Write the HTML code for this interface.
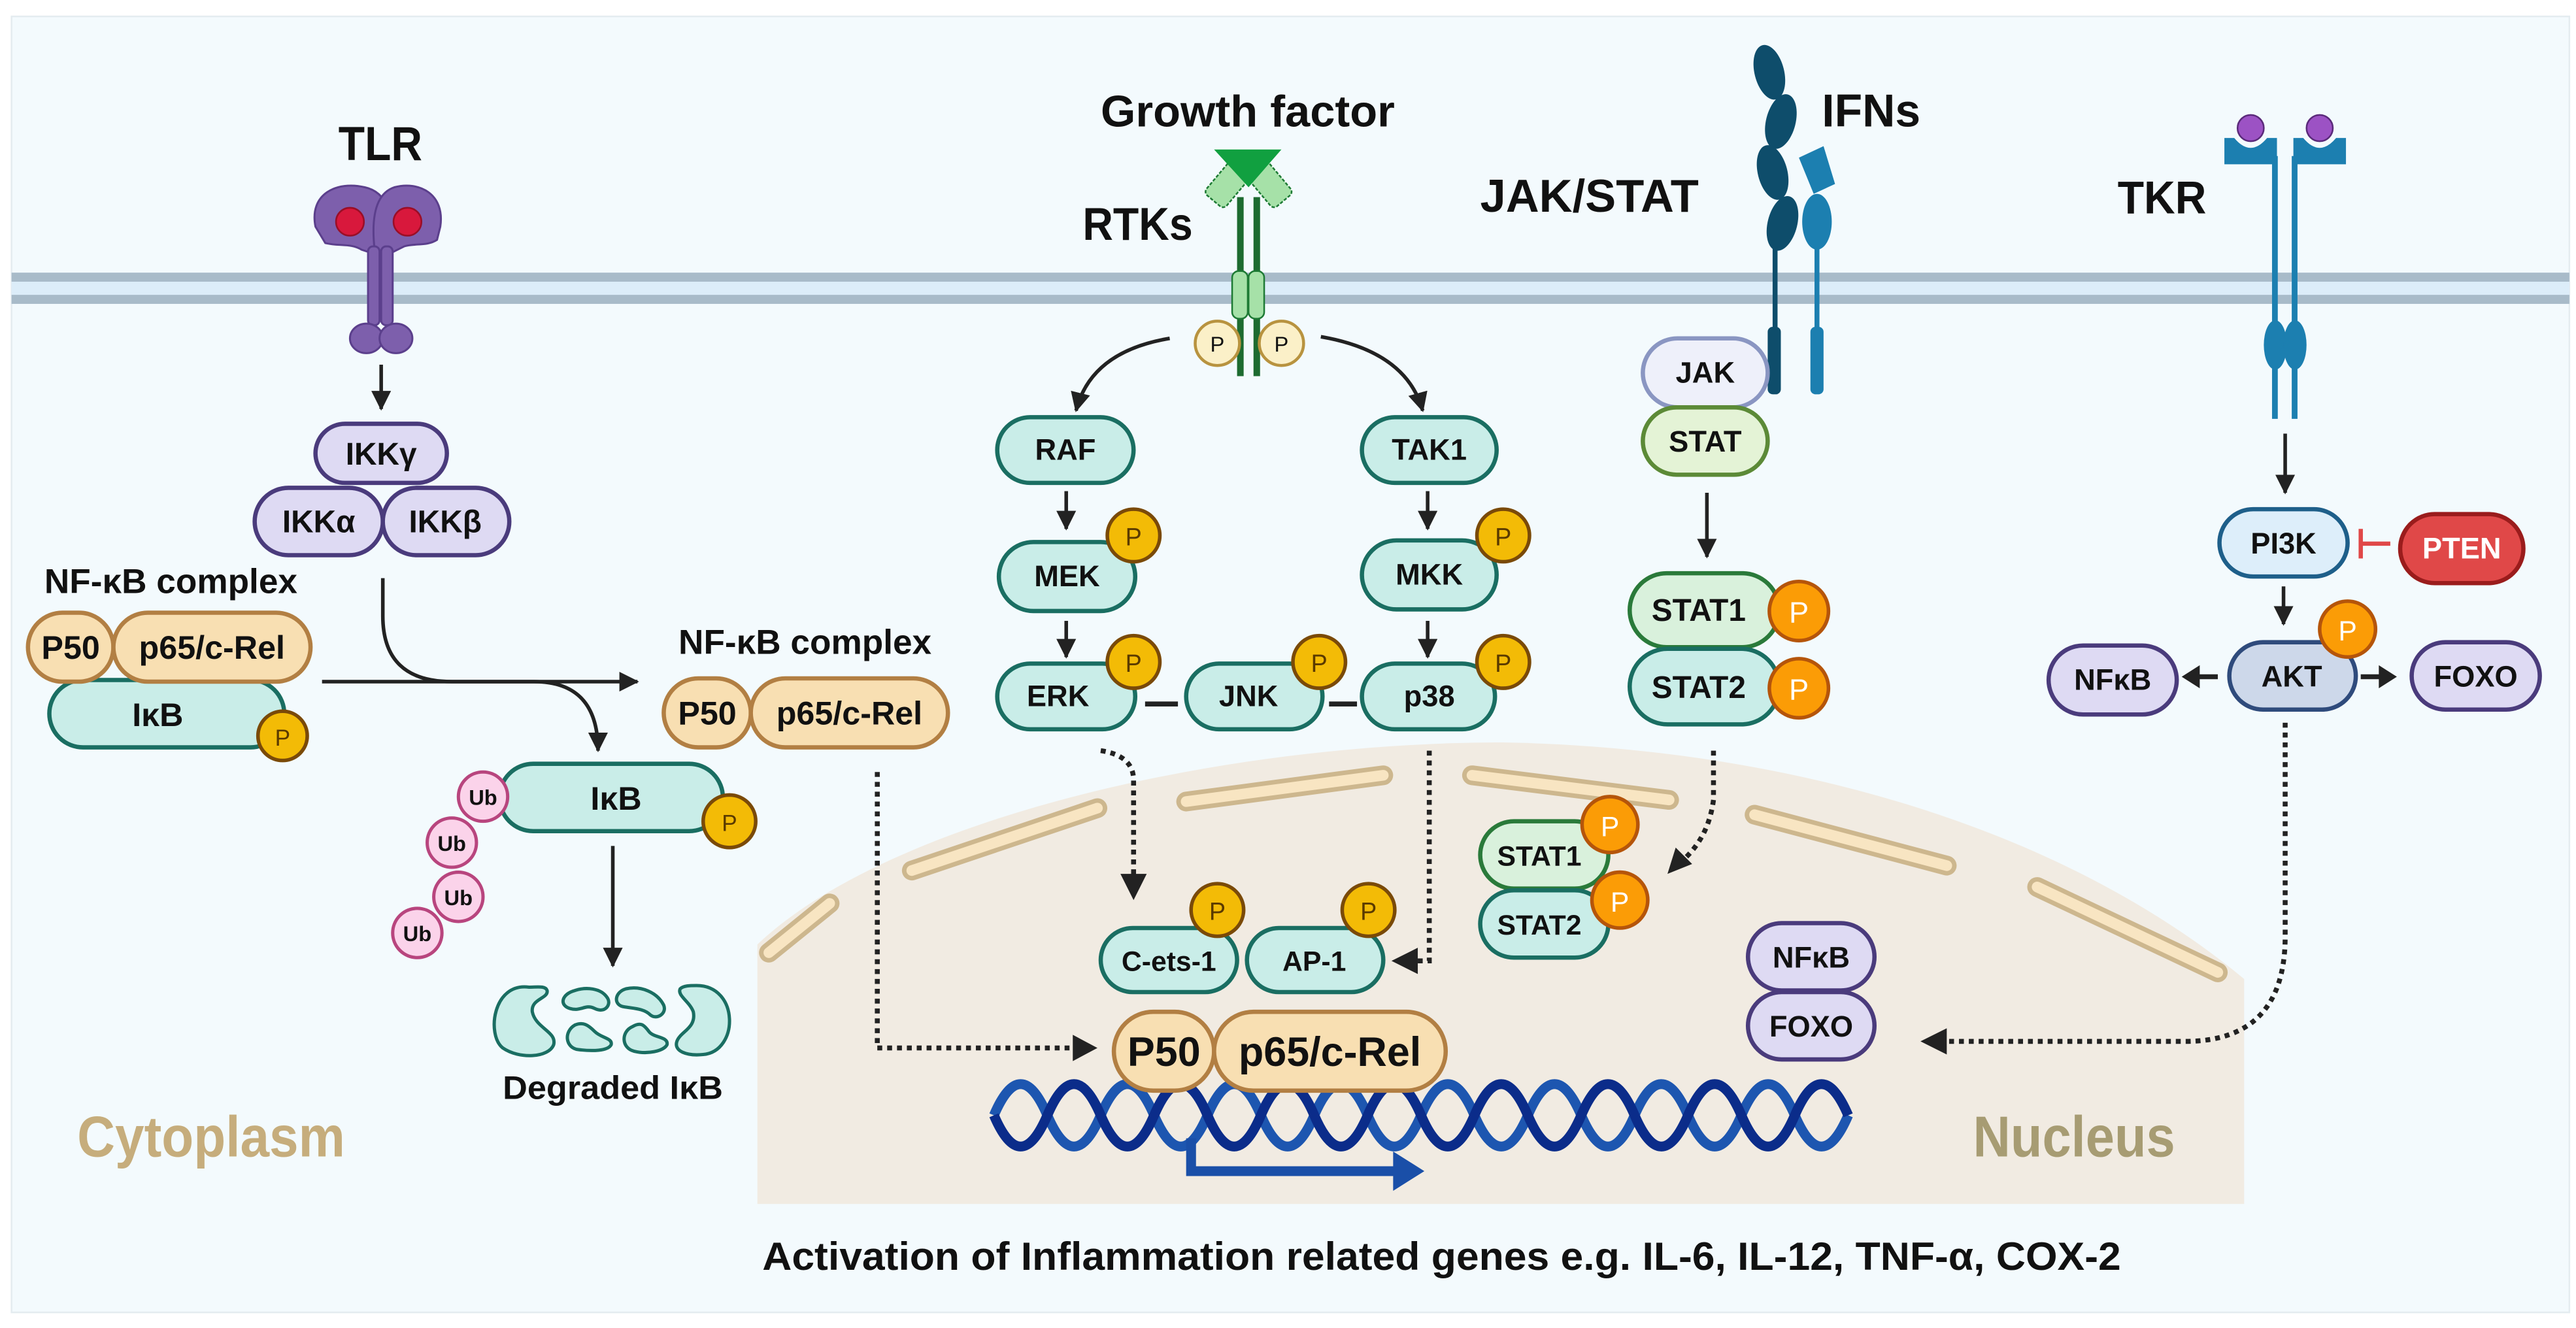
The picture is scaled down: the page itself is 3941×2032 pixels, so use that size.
<!DOCTYPE html>
<html><head><meta charset="utf-8"><style>
html,body{margin:0;padding:0;background:#fff;}
svg{display:block;}
text{font-family:"Liberation Sans",Arial,sans-serif;font-weight:bold;fill:#111;}
.tl{fill:#c9ede8;stroke:#1a6e62;stroke-width:2.6;}
.pu{fill:#dedaf3;stroke:#4a3b7c;stroke-width:2.6;}
.be{fill:#f8dfb2;stroke:#b27f43;stroke-width:2.6;}
.py{fill:#f3bb06;stroke:#7a4a08;stroke-width:2.2;}
.po{fill:#fb9c06;stroke:#b5550a;stroke-width:2.2;}
.ar{stroke:#222;stroke-width:2.2;fill:none;}
.dt{stroke:#222;stroke-width:3;fill:none;stroke-dasharray:3 3;}
</style></head><body>
<svg width="3941" height="2032" viewBox="0 0 1568 808.5" xmlns="http://www.w3.org/2000/svg">
<defs>
<marker id="ah" markerUnits="userSpaceOnUse" markerWidth="12" markerHeight="12" refX="11" refY="6" orient="auto"><path d="M0,0 L12,6 L0,12 Z" fill="#222"/></marker>
<marker id="ah2" markerUnits="userSpaceOnUse" markerWidth="16" markerHeight="16" refX="15" refY="8" orient="auto"><path d="M0,0 L16,8 L0,16 Z" fill="#222"/></marker>
</defs>
<rect x="0" y="0" width="1568" height="808.5" fill="#fff"/>
<rect x="7" y="10" width="1557" height="789" fill="#f3fafd" stroke="#e4ecf0" stroke-width="1"/>
<!-- membrane -->
<rect x="7" y="166" width="1557" height="19" fill="#dcedf9"/>
<rect x="7" y="166" width="1557" height="5.5" fill="#a8bbc9"/>
<rect x="7" y="179.5" width="1557" height="5.5" fill="#a8bbc9"/>
<!-- nucleus -->
<path d="M461,733 L461,575 C540,500 740,452 915,452 C1080,455 1250,500 1366,596 L1366,733 Z" fill="#f1ebe2"/>
<g stroke-linecap="round" fill="none">
<g stroke="#cdb78e" stroke-width="12">
<path d="M468,580 L505,550"/><path d="M555,530 L668,492"/><path d="M722,488 L842,472"/><path d="M896,472 L1016,487"/><path d="M1068,496 L1185,527"/><path d="M1240,540 L1350,592"/>
</g>
<g stroke="#f8e5c2" stroke-width="6.5">
<path d="M468,580 L505,550"/><path d="M555,530 L668,492"/><path d="M722,488 L842,472"/><path d="M896,472 L1016,487"/><path d="M1068,496 L1185,527"/><path d="M1240,540 L1350,592"/>
</g>
</g>
<!-- DNA -->
<path d="M605,679 q16.25,-38 32.5,0 t32.5,0 t32.5,0 t32.5,0 t32.5,0 t32.5,0 t32.5,0 t32.5,0 t32.5,0 t32.5,0 t32.5,0 t32.5,0 t32.5,0 t32.5,0 t32.5,0 t32.5,0" stroke="#1d56b0" stroke-width="6" fill="none"/>
<path d="M605,679 q16.25,38 32.5,0 t32.5,0 t32.5,0 t32.5,0 t32.5,0 t32.5,0 t32.5,0 t32.5,0 t32.5,0 t32.5,0 t32.5,0 t32.5,0 t32.5,0 t32.5,0 t32.5,0 t32.5,0" stroke="#0b2c8a" stroke-width="6" fill="none"/>
<path d="M725,693 L725,713 L850,713" stroke="#1a4fa8" stroke-width="6" fill="none"/>
<path d="M848,701 L867,713 L848,725 Z" fill="#1a4fa8"/>

<!-- titles -->
<text x="206" y="97.5" font-size="29" textLength="51" lengthAdjust="spacingAndGlyphs">TLR</text>
<text x="670" y="77" font-size="27" textLength="179" lengthAdjust="spacingAndGlyphs">Growth factor</text>
<text x="659" y="146" font-size="28" textLength="67" lengthAdjust="spacingAndGlyphs">RTKs</text>
<text x="901" y="129" font-size="28" textLength="133" lengthAdjust="spacingAndGlyphs">JAK/STAT</text>
<text x="1109" y="77" font-size="28" textLength="60" lengthAdjust="spacingAndGlyphs">IFNs</text>
<text x="1289" y="130" font-size="28" textLength="54" lengthAdjust="spacingAndGlyphs">TKR</text>
<text x="27" y="361" font-size="21" textLength="154" lengthAdjust="spacingAndGlyphs">NF-κB complex</text>
<text x="413" y="398" font-size="21" textLength="154" lengthAdjust="spacingAndGlyphs">NF-κB complex</text>
<text x="306" y="669" font-size="20" textLength="134" lengthAdjust="spacingAndGlyphs">Degraded IκB</text>
<text x="47" y="704" font-size="35" textLength="163" lengthAdjust="spacingAndGlyphs" style="fill:#c6ad7c">Cytoplasm</text>
<text x="1201" y="704" font-size="35" textLength="123" lengthAdjust="spacingAndGlyphs" style="fill:#a79c73">Nucleus</text>
<text x="464" y="773" font-size="24" textLength="827" lengthAdjust="spacingAndGlyphs">Activation of Inflammation related genes e.g. IL-6, IL-12, TNF-α, COX-2</text>

<!-- TLR receptor -->
<g fill="#7d5fac" stroke="#5b3f8c" stroke-width="1.2">
<path d="M192,138 C188,118 205,110 222,114 C236,117 240,132 238,150 L232,156 L220,152 C214,148 206,150 198,148 Z"/>
<path d="M268,138 C271,118 255,110 240,114 C228,118 226,134 228,152 L234,156 L246,150 C252,148 260,150 266,146 Z"/>
<rect x="224" y="150" width="7" height="48" rx="3"/><rect x="232" y="150" width="7" height="48" rx="3"/>
<ellipse cx="223" cy="206" rx="10" ry="9"/><ellipse cx="241" cy="206" rx="10" ry="9"/>
</g>
<circle cx="213" cy="135" r="8.5" fill="#d8183c" stroke="#9a0e26" stroke-width="1"/>
<circle cx="248" cy="135" r="8.5" fill="#d8183c" stroke="#9a0e26" stroke-width="1"/>
<path class="ar" d="M232,222 L232,249" marker-end="url(#ah)"/>

<!-- IKK -->
<rect class="pu" x="192" y="258" width="80" height="36" rx="18"/>
<text x="232" y="283" font-size="19" text-anchor="middle">IKKγ</text>
<rect class="pu" x="155" y="297" width="78" height="41" rx="20.5"/>
<text x="194" y="324" font-size="19" text-anchor="middle">IKKα</text>
<rect class="pu" x="233" y="297" width="77" height="41" rx="20.5"/>
<text x="271" y="324" font-size="19" text-anchor="middle">IKKβ</text>

<!-- connectors IKK -->
<path class="ar" d="M196,415 L388,415" marker-end="url(#ah)"/>
<path class="ar" d="M233,352 L233,375 Q233,415 275,415 L325,415 Q364,415 364,457" marker-end="url(#ah)"/>

<!-- NF-kB complex left -->
<rect class="tl" x="30" y="414" width="143" height="41" rx="20.5"/>
<text x="96" y="442" font-size="20" text-anchor="middle">IκB</text>
<circle class="py" cx="172" cy="448" r="15"/><text x="172" y="454" font-size="14" text-anchor="middle" style="font-weight:normal;fill:#5a3a00">P</text>
<rect class="be" x="17" y="373" width="52" height="42" rx="21"/>
<text x="43" y="401" font-size="20" text-anchor="middle">P50</text>
<rect class="be" x="69" y="373" width="120" height="42" rx="21"/>
<text x="129" y="401" font-size="20" text-anchor="middle">p65/c-Rel</text>

<!-- NF-kB complex 2 -->
<rect class="be" x="404" y="413" width="53" height="42" rx="21"/>
<text x="430.5" y="441" font-size="20" text-anchor="middle">P50</text>
<rect class="be" x="457" y="413" width="120" height="42" rx="21"/>
<text x="517" y="441" font-size="20" text-anchor="middle">p65/c-Rel</text>

<!-- Ub IkB -->
<rect class="tl" x="304" y="465" width="136" height="41" rx="20.5"/>
<text x="375" y="493" font-size="20" text-anchor="middle">IκB</text>
<circle class="py" cx="444" cy="500" r="16"/><text x="444" y="506" font-size="14" text-anchor="middle" style="font-weight:normal;fill:#5a3a00">P</text>
<g fill="#fbd3ea" stroke="#b8457e" stroke-width="2">
<circle cx="254" cy="568" r="15"/><circle cx="279" cy="546" r="15"/><circle cx="275" cy="513" r="15"/><circle cx="294" cy="485" r="15"/>
</g>
<g font-size="13" text-anchor="middle"><text x="294" y="490">Ub</text><text x="275" y="518">Ub</text><text x="279" y="551">Ub</text><text x="254" y="573">Ub</text></g>
<path class="ar" d="M373,515 L373,588" marker-end="url(#ah)"/>
<!-- degraded -->
<g fill="#c9ede8" stroke="#1a6e62" stroke-width="2">
<path d="M322,601 C300,598 296,630 306,638 C316,645 334,644 337,636 C339,628 326,626 324,616 C323,608 334,608 333,603 C332,600 327,601 322,601 Z"/>
<path d="M424,600 C450,600 450,640 428,642 C418,643 410,640 412,634 C414,628 424,626 422,616 C420,610 412,606 414,602 C416,600 420,600 424,600 Z"/>
<path d="M350,603 C342,605 340,612 347,614 C354,616 356,611 362,614 C368,617 372,612 370,608 C366,601 356,601 350,603 Z"/>
<path d="M350,624 C343,628 344,638 352,639 C360,640 370,640 372,636 C373,632 366,632 362,628 C358,624 355,622 350,624 Z"/>
<path d="M381,602 C374,604 373,612 380,613 C386,614 392,614 396,618 C400,621 406,617 404,612 C400,604 390,600 381,602 Z"/>
<path d="M385,625 C378,628 378,638 386,640 C394,642 404,640 406,636 C407,631 398,632 395,628 C392,624 390,622 385,625 Z"/>
</g>

<!-- RTK receptor -->
<g transform="rotate(40 749 110)"><rect x="741" y="100" width="16" height="26" rx="3" fill="#a6e1a8" stroke="#1d7a34" stroke-width="1" stroke-dasharray="2 1"/></g>
<g transform="rotate(-40 771 110)"><rect x="763" y="100" width="16" height="26" rx="3" fill="#a6e1a8" stroke="#1d7a34" stroke-width="1" stroke-dasharray="2 1"/></g>
<path d="M739,91 L780,91 L760,114 Z" fill="#11a040"/>
<rect x="753" y="120" width="4" height="109" fill="#1d6b30"/>
<rect x="763" y="120" width="4" height="109" fill="#1d6b30"/>
<rect x="750" y="165" width="9.5" height="29" rx="4" fill="#a6e1a8" stroke="#1d7a34" stroke-width="1"/>
<rect x="760" y="165" width="9.5" height="29" rx="4" fill="#a6e1a8" stroke="#1d7a34" stroke-width="1"/>
<circle cx="741" cy="209" r="13.5" fill="#fbf0c8" stroke="#b8933f" stroke-width="1.8"/>
<circle cx="780" cy="209" r="13.5" fill="#fbf0c8" stroke="#b8933f" stroke-width="1.8"/>
<text x="741" y="214" font-size="13" text-anchor="middle" style="font-weight:normal">P</text>
<text x="780" y="214" font-size="13" text-anchor="middle" style="font-weight:normal">P</text>
<path class="ar" d="M712,206 Q664,214 655,250" marker-end="url(#ah)"/>
<path class="ar" d="M804,205 Q856,214 866,250" marker-end="url(#ah)"/>

<!-- RAF chain -->
<rect class="tl" x="607" y="254" width="83" height="40" rx="20"/><text x="648.5" y="280" font-size="18" text-anchor="middle">RAF</text>
<path class="ar" d="M649,299 L649,322" marker-end="url(#ah)"/>
<rect class="tl" x="608" y="330" width="83" height="42" rx="21"/><text x="649.5" y="357" font-size="18" text-anchor="middle">MEK</text>
<circle class="py" cx="690" cy="326" r="16"/><text x="690" y="332" font-size="15" text-anchor="middle" style="font-weight:normal;fill:#5a3a00">P</text>
<path class="ar" d="M649,378 L649,400" marker-end="url(#ah)"/>
<rect class="tl" x="829" y="254" width="82" height="40" rx="20"/><text x="870" y="280" font-size="18" text-anchor="middle">TAK1</text>
<path class="ar" d="M869,299 L869,322" marker-end="url(#ah)"/>
<rect class="tl" x="829" y="329" width="82" height="42" rx="21"/><text x="870" y="356" font-size="18" text-anchor="middle">MKK</text>
<circle class="py" cx="915" cy="326" r="16"/><text x="915" y="332" font-size="15" text-anchor="middle" style="font-weight:normal;fill:#5a3a00">P</text>
<path class="ar" d="M869,378 L869,400" marker-end="url(#ah)"/>
<rect class="tl" x="607" y="404" width="84" height="40" rx="20"/><text x="644" y="430" font-size="18" text-anchor="middle">ERK</text>
<rect class="tl" x="722" y="404" width="83" height="40" rx="20"/><text x="760" y="430" font-size="18" text-anchor="middle">JNK</text>
<rect class="tl" x="829" y="404" width="81" height="40" rx="20"/><text x="870" y="430" font-size="18" text-anchor="middle">p38</text>
<path d="M697,428.6 L717,428.6 M809,428.6 L826,428.6" stroke="#222" stroke-width="3"/>
<circle class="py" cx="690" cy="403" r="16"/><text x="690" y="409" font-size="15" text-anchor="middle" style="font-weight:normal;fill:#5a3a00">P</text>
<circle class="py" cx="803" cy="403" r="16"/><text x="803" y="409" font-size="15" text-anchor="middle" style="font-weight:normal;fill:#5a3a00">P</text>
<circle class="py" cx="915" cy="403" r="16"/><text x="915" y="409" font-size="15" text-anchor="middle" style="font-weight:normal;fill:#5a3a00">P</text>

<!-- dotted -->
<path class="dt" d="M670,457 Q690,460 690,475 L690,534"/><path d="M682,532 L698,532 L690,548 Z" fill="#222"/>
<path class="dt" d="M870,457 L870,585 L862,585"/><path d="M863,577 L863,593 L847,585 Z" fill="#222"/>
<path class="dt" d="M534,470 L534,638 L654,638"/><path d="M653,630 L653,646 L668,638 Z" fill="#222"/>
<path class="dt" d="M1043,457 L1043,487 Q1040,510 1024,524"/><path d="M1015,532 L1020,516 L1030,526 Z" fill="#222"/>
<path class="dt" d="M1391,440 L1391,570 Q1391,634 1330,634 L1184,634"/><path d="M1185,626 L1185,642 L1169,634 Z" fill="#222"/>

<!-- nucleus factors -->
<rect class="tl" x="670" y="565" width="83" height="39" rx="19.5"/><text x="711.5" y="591" font-size="17" text-anchor="middle">C-ets-1</text>
<rect class="tl" x="759" y="565" width="83" height="39" rx="19.5"/><text x="800" y="591" font-size="17" text-anchor="middle">AP-1</text>
<circle class="py" cx="741" cy="554" r="16"/><text x="741" y="560" font-size="15" text-anchor="middle" style="font-weight:normal;fill:#5a3a00">P</text>
<circle class="py" cx="833" cy="554" r="16"/><text x="833" y="560" font-size="15" text-anchor="middle" style="font-weight:normal;fill:#5a3a00">P</text>
<rect class="be" x="678" y="616" width="61" height="48" rx="24"/><text x="708.5" y="649" font-size="25" text-anchor="middle">P50</text>
<rect class="be" x="739" y="616" width="141" height="48" rx="24"/><text x="809.5" y="649" font-size="25" text-anchor="middle">p65/c-Rel</text>

<!-- JAK/STAT -->
<g fill="#0e4d6b">
<ellipse cx="1077" cy="44" rx="9" ry="17" transform="rotate(-14 1077 44)"/>
<ellipse cx="1084" cy="74" rx="9" ry="17" transform="rotate(14 1084 74)"/>
<ellipse cx="1079" cy="105" rx="9" ry="17" transform="rotate(-14 1079 105)"/>
<ellipse cx="1085" cy="136" rx="9" ry="17" transform="rotate(14 1085 136)"/>
<rect x="1079" y="150" width="3" height="90"/><rect x="1076" y="199" width="8" height="41" rx="3"/>
</g>
<g fill="#1c7fb0">
<path d="M1095,96 L1110,89 L1117,112 L1104,118 Z"/>
<ellipse cx="1106" cy="135" rx="9" ry="17"/>
<rect x="1104.5" y="150" width="3" height="90"/><rect x="1102" y="199" width="8" height="41" rx="3"/>
</g>
<rect x="1000" y="206" width="76" height="42" rx="21" fill="#eef0fa" stroke="#8a96c2" stroke-width="2.6"/><text x="1038" y="233" font-size="18" text-anchor="middle">JAK</text>
<rect x="1000" y="248" width="76" height="41" rx="20.5" fill="#e4f3d6" stroke="#5c8a37" stroke-width="2.6"/><text x="1038" y="275" font-size="18" text-anchor="middle">STAT</text>
<path class="ar" d="M1039,300 L1039,339" marker-end="url(#ah)"/>
<rect x="992" y="349" width="91" height="45" rx="22.5" fill="#d9f1dc" stroke="#2a7a3a" stroke-width="2.6"/><text x="1034" y="378" font-size="19" text-anchor="middle">STAT1</text>
<rect class="tl" x="992" y="395" width="91" height="46" rx="23"/><text x="1034" y="425" font-size="19" text-anchor="middle">STAT2</text>
<circle class="po" cx="1095" cy="372" r="18"/><text x="1095" y="379" font-size="18" text-anchor="middle" style="font-weight:normal;fill:#fff">P</text>
<circle class="po" cx="1095" cy="419" r="18"/><text x="1095" y="426" font-size="18" text-anchor="middle" style="font-weight:normal;fill:#fff">P</text>
<rect x="901" y="500" width="78" height="41" rx="20.5" fill="#d9f1dc" stroke="#2a7a3a" stroke-width="2.6"/><text x="937" y="527" font-size="17" text-anchor="middle">STAT1</text>
<rect class="tl" x="901" y="542" width="78" height="41" rx="20.5"/><text x="937" y="569" font-size="17" text-anchor="middle">STAT2</text>
<circle class="po" cx="980" cy="502" r="17"/><text x="980" y="509" font-size="17" text-anchor="middle" style="font-weight:normal;fill:#fff">P</text>
<circle class="po" cx="986" cy="548" r="17"/><text x="986" y="555" font-size="17" text-anchor="middle" style="font-weight:normal;fill:#fff">P</text>

<!-- TKR -->
<g fill="#1c7fb0">
<path d="M1354,84 L1360,84 Q1370,96 1380,84 L1386,84 L1386,100 L1354,100 Z"/>
<path d="M1396,84 L1402,84 Q1412,96 1422,84 L1428,84 L1428,100 L1396,100 Z"/>
<rect x="1383" y="95" width="3.5" height="160"/><rect x="1395" y="95" width="3.5" height="160"/>
<ellipse cx="1385" cy="210" rx="7" ry="15"/><ellipse cx="1397" cy="210" rx="7" ry="15"/>
</g>
<circle cx="1370" cy="78" r="8" fill="#9c52c4" stroke="#5a2a7a" stroke-width="1"/>
<circle cx="1412" cy="78" r="8" fill="#9c52c4" stroke="#5a2a7a" stroke-width="1"/>
<path class="ar" d="M1391,264 L1391,300" marker-end="url(#ah)"/>
<rect x="1351" y="310" width="78" height="41" rx="20.5" fill="#ddeefa" stroke="#1e5f8a" stroke-width="2.6"/><text x="1390" y="337" font-size="18" text-anchor="middle">PI3K</text>
<path d="M1437,322 L1437,340 M1437,331 L1455,331" stroke="#e04848" stroke-width="2.6"/>
<rect x="1461" y="313" width="75" height="42" rx="21" fill="#e04848" stroke="#9a1c1c" stroke-width="2.6"/><text x="1498.5" y="340" font-size="18" text-anchor="middle" style="fill:#fff">PTEN</text>
<path class="ar" d="M1390,357 L1390,380" marker-end="url(#ah)"/>
<rect x="1357" y="391" width="77" height="41" rx="20.5" fill="#cdd8ea" stroke="#2f4b7c" stroke-width="2.6"/><text x="1395" y="418" font-size="18" text-anchor="middle">AKT</text>
<circle class="po" cx="1429" cy="383" r="17"/><text x="1429" y="390" font-size="17" text-anchor="middle" style="font-weight:normal;fill:#fff">P</text>
<rect class="pu" x="1247" y="393" width="78" height="42" rx="21"/><text x="1286" y="420" font-size="18" text-anchor="middle">NFκB</text>
<rect class="pu" x="1468" y="391" width="78" height="41" rx="20.5"/><text x="1507" y="418" font-size="18" text-anchor="middle">FOXO</text>
<path d="M1350,412 L1338,412" stroke="#222" stroke-width="3"/><path d="M1339,405 L1339,419 L1328,412 Z" fill="#222"/>
<path d="M1437,412 L1449,412" stroke="#222" stroke-width="3"/><path d="M1448,405 L1448,419 L1459,412 Z" fill="#222"/>
<rect class="pu" x="1064" y="562" width="77" height="41" rx="20.5"/><text x="1102.5" y="589" font-size="18" text-anchor="middle">NFκB</text>
<rect class="pu" x="1064" y="604" width="77" height="41" rx="20.5"/><text x="1102.5" y="631" font-size="18" text-anchor="middle">FOXO</text>
</svg>
</body></html>
